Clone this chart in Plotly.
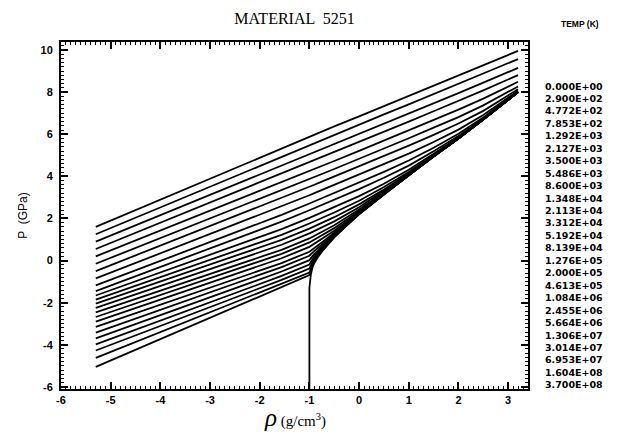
import plotly.graph_objects as go

# ---------------- data (log10 values) ----------------
# density grid (log10 rho, g/cm3) shared by the isotherms T > 0
rho_iso = [-5.3, -1.56, -1.0, -0.9, -0.75, -0.5, 0.0, 0.5, 1.0, 1.5, 2.0, 2.5, 3.2]

# log10 P (GPa) for each isotherm
P_3700E08 = [1.60, 5.34, 5.88, 5.98, 6.13, 6.37, 6.85, 7.34, 7.82, 8.31, 8.79, 9.28, 9.96]
P_1604E08 = [1.25, 4.94, 5.48, 5.58, 5.73, 5.97, 6.45, 6.94, 7.42, 7.91, 8.39, 8.88, 9.57]
P_6953E07 = [0.90, 4.50, 5.04, 5.14, 5.29, 5.53, 6.01, 6.50, 6.98, 7.47, 7.95, 8.45, 9.15]
P_3014E07 = [0.55, 4.12, 4.66, 4.76, 4.91, 5.15, 5.63, 6.12, 6.60, 7.09, 7.58, 8.08, 8.81]
P_1306E07 = [0.20, 3.70, 4.24, 4.34, 4.49, 4.73, 5.21, 5.70, 6.18, 6.68, 7.17, 7.69, 8.49]
P_5664E06 = [-0.15, 3.32, 3.86, 3.96, 4.11, 4.35, 4.83, 5.32, 5.81, 6.31, 6.81, 7.37, 8.27]
P_2455E06 = [-0.50, 2.96, 3.50, 3.60, 3.75, 3.99, 4.47, 4.97, 5.46, 5.97, 6.51, 7.11, 8.14]
P_1084E06 = [-0.85, 2.56, 3.10, 3.20, 3.35, 3.59, 4.08, 4.58, 5.08, 5.63, 6.22, 6.91, 8.06]
P_4613E05 = [-1.18, 2.17, 2.71, 2.81, 2.96, 3.20, 3.70, 4.21, 4.75, 5.36, 6.02, 6.80, 8.03]
P_2000E05 = [-1.45, 1.85, 2.39, 2.49, 2.64, 2.89, 3.39, 3.93, 4.51, 5.19, 5.92, 6.75, 8.01]
P_1276E05 = [-1.66, 1.49, 2.03, 2.13, 2.29, 2.54, 3.06, 3.65, 4.31, 5.07, 5.86, 6.72, 8.00]
P_8139E04 = [-1.86, 1.22, 1.76, 1.86, 2.02, 2.28, 2.84, 3.49, 4.21, 5.02, 5.83, 6.71, 8.00]
P_5192E04 = [-2.05, 0.98, 1.52, 1.63, 1.79, 2.06, 2.67, 3.37, 4.15, 4.99, 5.82, 6.71, 8.00]
P_3312E04 = [-2.25, 0.75, 1.29, 1.40, 1.57, 1.86, 2.53, 3.30, 4.11, 4.98, 5.81, 6.70, 8.00]
P_2113E04 = [-2.46, 0.51, 1.05, 1.18, 1.35, 1.68, 2.42, 3.24, 4.09, 4.97, 5.81, 6.70, 8.00]
P_1348E04 = [-2.68, 0.32, 0.86, 1.00, 1.19, 1.54, 2.35, 3.21, 4.07, 4.96, 5.80, 6.70, 8.00]
P_8600E03 = [-2.90, 0.11, 0.65, 0.81, 1.02, 1.42, 2.30, 3.19, 4.07, 4.96, 5.80, 6.70, 8.00]
P_5486E03 = [-3.15, -0.12, 0.42, 0.61, 0.86, 1.32, 2.26, 3.17, 4.06, 4.95, 5.80, 6.70, 8.00]
P_3500E03 = [-3.42, -0.31, 0.23, 0.46, 0.75, 1.25, 2.24, 3.17, 4.06, 4.95, 5.80, 6.70, 8.00]
P_2127E03 = [-3.70, -0.52, 0.02, 0.32, 0.65, 1.20, 2.23, 3.16, 4.05, 4.95, 5.80, 6.70, 8.00]
P_1292E03 = [-3.98, -0.73, -0.19, 0.20, 0.58, 1.16, 2.22, 3.16, 4.05, 4.95, 5.80, 6.70, 8.00]
P_7853E02 = [-4.27, -0.92, -0.38, 0.11, 0.53, 1.14, 2.21, 3.15, 4.05, 4.95, 5.80, 6.70, 8.00]
P_4772E02 = [-4.62, -1.11, -0.57, 0.04, 0.49, 1.13, 2.21, 3.15, 4.05, 4.95, 5.80, 6.70, 8.00]
P_2900E02 = [-5.05, -1.23, -0.69, 0.01, 0.48, 1.12, 2.21, 3.15, 4.05, 4.95, 5.80, 6.70, 8.00]

# T = 0 (cold curve)
rho_cold = [-1.0, -1.0, -0.97, -0.93, -0.85, -0.75, -0.5, -0.25, 0.0, 0.5, 1.0, 1.5, 2.0, 2.5, 3.2]
P_cold = [-6.3, -1.3, -0.65, -0.25, 0.10, 0.42, 1.10, 1.70, 2.20, 3.15, 4.05, 4.95, 5.80, 6.70, 8.00]

temp_labels = ["0.000E+00", "2.900E+02", "4.772E+02", "7.853E+02", "1.292E+03",
               "2.127E+03", "3.500E+03", "5.486E+03", "8.600E+03", "1.348E+04",
               "2.113E+04", "3.312E+04", "5.192E+04", "8.139E+04", "1.276E+05",
               "2.000E+05", "4.613E+05", "1.084E+06", "2.455E+06", "5.664E+06",
               "1.306E+07", "3.014E+07", "6.953E+07", "1.604E+08", "3.700E+08"]

x_ticks = [-6, -5, -4, -3, -2, -1, 0, 1, 2, 3]
y_ticks = [-6, -4, -2, 0, 2, 4, 6, 8, 10]

isotherms = [P_2900E02, P_4772E02, P_7853E02, P_1292E03, P_2127E03, P_3500E03,
             P_5486E03, P_8600E03, P_1348E04, P_2113E04, P_3312E04, P_5192E04,
             P_8139E04, P_1276E05, P_2000E05, P_4613E05, P_1084E06, P_2455E06,
             P_5664E06, P_1306E07, P_3014E07, P_6953E07, P_1604E08, P_3700E08]

# ---------------- figure ----------------
# the page body has an 8 px margin, so the figure is drawn 8 px in from the
# window corner; the figure is sized to fill the rest of the 622x434 window.
OFF = 8
W, H = 622 - OFF, 434 - OFF
ML, MR, MT, MB = 53, 94, 34, 45          # plot box: x 53..520, y 34..381
PW, PH = W - ML - MR, H - MT - MB

def px_x(px):          # window pixel -> paper x
    return (px - OFF - ML) / PW

def px_y(py):          # window pixel -> paper y
    return (H - MB - (py - OFF)) / PH

fig = go.Figure()
line_style = dict(color="black", width=1.8)

fig.add_trace(go.Scatter(x=rho_cold, y=P_cold, mode="lines", line=line_style,
                         name=temp_labels[0], showlegend=False, hoverinfo="skip"))
for lab, ys in zip(temp_labels[1:], isotherms):
    fig.add_trace(go.Scatter(x=rho_iso, y=ys, mode="lines", line=line_style,
                             name=lab, showlegend=False, hoverinfo="skip"))

tick_font = dict(family="Liberation Sans, Arial, sans-serif", size=11,
                 color="black", weight="bold")

axis_common = dict(
    showline=True, linecolor="black", linewidth=2, mirror="allticks",
    ticks="inside", ticklen=7, tickwidth=1.5, tickcolor="black",
    showgrid=False, zeroline=False, tickfont=tick_font,
)

fig.update_xaxes(range=[-6, 3.4], tickvals=x_ticks,
                 ticktext=[str(v) for v in x_ticks],
                 minor=dict(dtick=0.1, ticklen=3, ticks="inside",
                            tickcolor="black", tickwidth=1, showgrid=False),
                 **axis_common)
fig.update_yaxes(range=[-6.1, 10.38], tickvals=y_ticks,
                 ticktext=[str(v) for v in y_ticks],
                 ticklabelstandoff=4,
                 minor=dict(dtick=0.2, ticklen=3, ticks="inside",
                            tickcolor="black", tickwidth=1, showgrid=False),
                 title=dict(text="P  (GPa)", standoff=10,
                            font=dict(family="Liberation Sans, Arial, sans-serif",
                                      size=12, color="black")),
                 **axis_common)

annotations = []
# x axis title
annotations.append(dict(
    xref="paper", yref="paper", x=0.5, y=px_y(433), xanchor="center", yanchor="bottom",
    showarrow=False,
    text="<span style='font-size:25px'><i>ρ</i></span><span style='font-size:15px'> (g/cm<sup>3</sup>)</span>",
    font=dict(family="Liberation Serif, Times New Roman, serif", size=15, color="black"),
))
# temperature header
annotations.append(dict(
    xref="paper", yref="paper", x=px_x(580), y=px_y(24), xanchor="center", yanchor="middle",
    showarrow=False, text="TEMP (K)",
    font=dict(family="Liberation Sans, sans-serif", size=8.5,
              color="black", weight="bold"),
))
# temperature list
for i, lab in enumerate(temp_labels):
    annotations.append(dict(
        xref="paper", yref="paper", x=px_x(543), y=px_y(86 + 12.45 * i),
        xanchor="left", yanchor="middle", showarrow=False, text=lab,
        font=dict(family="DejaVu Sans, sans-serif", size=9.5,
                  color="black", weight="bold"),
    ))

fig.update_layout(
    width=W, height=H,
    margin=dict(l=ML, r=MR, t=MT, b=MB, autoexpand=False),
    paper_bgcolor="white", plot_bgcolor="white",
    showlegend=False,
    title=dict(text="MATERIAL  5251", x=0.5, xref="paper", xanchor="center",
               y=1 - (18 - OFF) / H, yref="container", yanchor="middle",
               font=dict(family="Liberation Serif, Times New Roman, serif",
                         size=16, color="black")),
    annotations=annotations,
)

fig.write_html("out.html")
